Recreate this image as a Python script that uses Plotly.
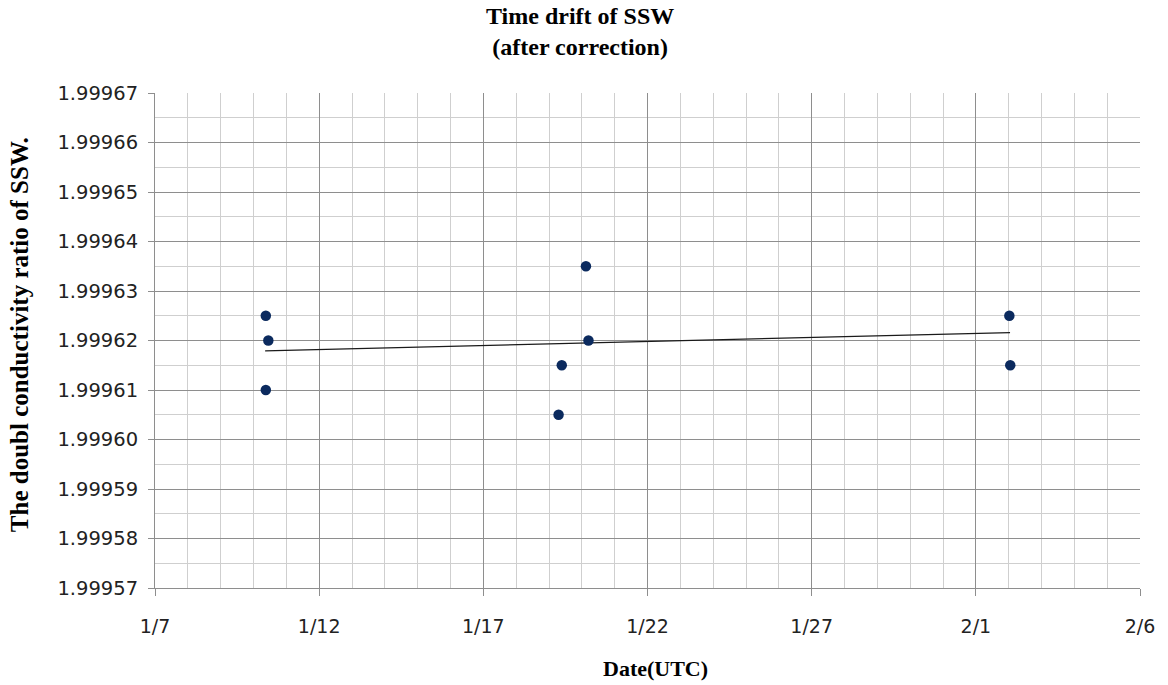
import plotly.graph_objects as go

# Measurement times (UTC) and corrected double conductivity ratio of SSW
dates = [
    "2010-01-10 09:00", "2010-01-10 10:50", "2010-01-10 09:00",
    "2010-01-20 03:00", "2010-01-20 04:50",
    "2010-01-19 09:20", "2010-01-19 07:00",
    "2010-02-02 00:30", "2010-02-02 01:10",
]
ratios = [
    1.999625, 1.999620, 1.999610,
    1.999635, 1.999620,
    1.999615, 1.999605,
    1.999625, 1.999615,
]

# Linear trend line, end values
trend_dates = ["2010-01-10 08:30", "2010-02-02 01:00"]
trend_values = [1.9996179, 1.9996216]

x_ticks = ["2010-01-07", "2010-01-12", "2010-01-17", "2010-01-22",
           "2010-01-27", "2010-02-01", "2010-02-06"]
x_tick_text = ["1/7", "1/12", "1/17", "1/22", "1/27", "2/1", "2/6"]
y_ticks = [1.99957, 1.99958, 1.99959, 1.99960, 1.99961, 1.99962,
           1.99963, 1.99964, 1.99965, 1.99966, 1.99967]

serif = "Liberation Serif, Times New Roman, serif"
sans = "DejaVu Sans, sans-serif"

fig = go.Figure()
fig.add_trace(go.Scatter(
    x=trend_dates, y=trend_values, mode="lines",
    line=dict(color="#1a1a1a", width=1.2),
    hoverinfo="skip", showlegend=False,
))
fig.add_trace(go.Scatter(
    x=dates, y=ratios, mode="markers",
    marker=dict(color="#0b2a5e", size=10.5),
    showlegend=False,
))

fig.update_layout(
    width=1168, height=685,
    margin=dict(l=155, r=28, t=93, b=97),
    paper_bgcolor="white", plot_bgcolor="white",
    xaxis=dict(
        type="date",
        range=["2010-01-07", "2010-02-06"],
        tickvals=x_ticks, ticktext=x_tick_text,
        showgrid=True, gridcolor="#8e8e8e", gridwidth=1,
        ticks="outside", ticklen=7, tickcolor="#8e8e8e",
        showline=True, linecolor="#8e8e8e", linewidth=1,
        tickfont=dict(family=sans, size=19, color="#222222"),
        ticklabelstandoff=14,
        minor=dict(dtick=86400000, tick0="2010-01-07",
                   showgrid=True, gridcolor="#cfcfcf", gridwidth=1),
        zeroline=False,
    ),
    yaxis=dict(
        range=[1.99957, 1.99967],
        tickvals=y_ticks, tickformat=".5f",
        showgrid=True, gridcolor="#8e8e8e", gridwidth=1,
        ticks="outside", ticklen=6, tickcolor="#8e8e8e",
        showline=True, linecolor="#8e8e8e", linewidth=1,
        tickfont=dict(family=sans, size=19.5, color="#222222"),
        ticklabelstandoff=6,
        minor=dict(dtick=0.000005, tick0=1.99957,
                   showgrid=True, gridcolor="#cfcfcf", gridwidth=1),
        zeroline=False,
    ),
    annotations=[
        dict(text="Time drift of SSW<br>(after correction)",
             xref="paper", yref="paper", x=0.431, y=1.185,
             xanchor="center", yanchor="top", showarrow=False,
             font=dict(family=serif, size=24, color="black", weight="bold")),
        dict(text="The doubl conductivity ratio of SSW.",
             xref="paper", yref="paper", x=-0.138, y=0.511,
             xanchor="center", yanchor="middle", textangle=-90,
             showarrow=False,
             font=dict(family=serif, size=25, color="black", weight="bold")),
        dict(text="Date(UTC)",
             xref="paper", yref="paper", x=0.508, y=-0.163,
             xanchor="center", yanchor="middle",
             showarrow=False,
             font=dict(family=serif, size=22, color="black", weight="bold")),
    ],
)

fig.write_html("out.html")
